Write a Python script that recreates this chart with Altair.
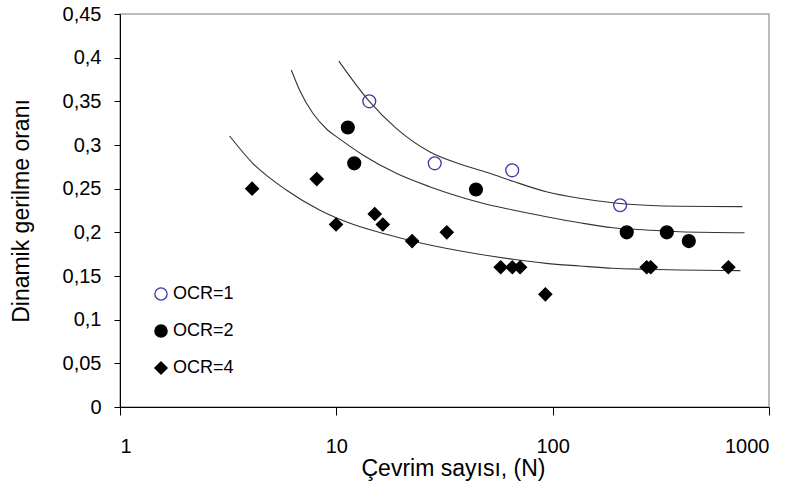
import altair as alt
import pandas as pd

# ---- measured points ----
ocr1_n = [14.2, 28.5, 65, 205]
ocr1_y = [0.35, 0.279, 0.271, 0.231]
ocr2_n = [11.3, 12.1, 44.2, 220, 337, 426]
ocr2_y = [0.32, 0.279, 0.249, 0.2, 0.2, 0.19]
ocr4_n = [4.08, 8.12, 9.97, 15.05, 16.4, 22.4, 32.4, 57.5, 65.1, 70.7, 92.5, 272, 284, 649]
ocr4_y = [0.25, 0.261, 0.209, 0.221, 0.209, 0.19, 0.2, 0.16, 0.16, 0.16, 0.129, 0.16, 0.16, 0.16]

# ---- trend curves ----
c1_n = [10.27, 14.24, 18.92, 26.97, 38.46, 51.1, 65.5, 93.4, 133.1, 189.8, 270.9, 386, 753]
c1_y = [0.396, 0.3496, 0.3191, 0.2923, 0.2771, 0.2676, 0.2585, 0.2465, 0.239, 0.2339, 0.231, 0.2298, 0.2294]
c2_n = [6.19, 6.76, 7.79, 9.11, 10.35, 13.26, 18.92, 26.97, 38.46, 51.1, 65.5, 93.4, 133.1, 189.8, 270.9, 386, 771]
c2_y = [0.3859, 0.363, 0.3363, 0.3172, 0.307, 0.2886, 0.2676, 0.2523, 0.2397, 0.2313, 0.2256, 0.2179, 0.211, 0.2053, 0.2027, 0.2007, 0.1996]
c3_n = [3.21, 4.11, 5.87, 8.36, 11.92, 17.01, 24.25, 45.9, 65.5, 93.4, 133.1, 189.8, 270.9, 386, 737]
c3_y = [0.3103, 0.279, 0.2485, 0.2256, 0.2092, 0.1978, 0.1881, 0.1749, 0.1691, 0.1645, 0.1615, 0.1588, 0.1577, 0.1569, 0.1561]

series = ["OCR=1", "OCR=2", "OCR=4"]
x_ticks = [1, 10, 100, 1000]
y_ticks = [0, 0.05, 0.1, 0.15, 0.2, 0.25, 0.3, 0.35, 0.4, 0.45]

pts = pd.concat([
    pd.DataFrame({"N": ocr1_n, "y": ocr1_y, "OCR": series[0]}),
    pd.DataFrame({"N": ocr2_n, "y": ocr2_y, "OCR": series[1]}),
    pd.DataFrame({"N": ocr4_n, "y": ocr4_y, "OCR": series[2]}),
], ignore_index=True)

curves = pd.concat([
    pd.DataFrame({"N": c1_n, "y": c1_y, "c": "c1", "o": range(len(c1_n))}),
    pd.DataFrame({"N": c2_n, "y": c2_y, "c": "c2", "o": range(len(c2_n))}),
    pd.DataFrame({"N": c3_n, "y": c3_y, "c": "c3", "o": range(len(c3_n))}),
], ignore_index=True)

FONT = "Liberation Sans"

x_enc = alt.X("N:Q", scale=alt.Scale(type="log", domain=[1, 1000], nice=False),
              axis=alt.Axis(values=x_ticks, format="d", title="Çevrim sayısı, (N)",
                            grid=False, tickSize=8, labelPadding=21, titlePadding=1,
                            titleX=333, labelFontSize=20, titleFontSize=23, labelColor="black",
                            titleColor="black", titleFontWeight="normal",
                            domainColor="black", tickColor="black", labelFont=FONT,
                            titleFont=FONT))
y_enc = alt.Y("y:Q", scale=alt.Scale(domain=[0, 0.45], nice=False),
              axis=alt.Axis(values=y_ticks,
                            labelExpr="replace(format(datum.value, '.2~f'), '.', ',')",
                            title="Dinamik gerilme oranı", grid=False, tickSize=6,
                            labelPadding=13, titlePadding=29, labelFontSize=20,
                            titleFontSize=23, labelColor="black", titleColor="black",
                            titleFontWeight="normal", domainColor="black",
                            tickColor="black", labelFont=FONT, titleFont=FONT))

lines = alt.Chart(curves).mark_line(color="#333333", strokeWidth=1.1, interpolate="monotone").encode(
    x=x_enc, y=y_enc, detail="c:N", order="o:Q")

leg = dict(title=None, orient="none", legendX=32, legendY=271)

points = alt.Chart(pts).mark_point(filled=True, size=165, strokeWidth=1.3, opacity=1).encode(
    x=x_enc, y=y_enc,
    shape=alt.Shape("OCR:N", scale=alt.Scale(domain=series, range=["circle", "circle", "diamond"]),
                    legend=alt.Legend(labelFontSize=18, labelFont=FONT, labelColor="black",
                                      symbolSize=150, labelOffset=3, rowPadding=19,
                                      symbolStrokeWidth=1.3, **leg)),
    fill=alt.Fill("OCR:N", scale=alt.Scale(domain=series, range=["transparent", "black", "black"]),
                  legend=alt.Legend(**leg)),
    stroke=alt.Stroke("OCR:N", scale=alt.Scale(domain=series, range=["#3b3ba6", "black", "black"]),
                      legend=alt.Legend(**leg)),
)

chart = alt.layer(lines, points).properties(
    width=649, height=393,
    autosize=alt.AutoSizeParams(type="none"),
    padding={"left": 120, "top": 14, "right": 30, "bottom": 82},
    background="white",
).configure_view(stroke="#a6a6a6", strokeWidth=1.5)

chart.save("out.html", embed_options={"renderer": "svg", "actions": False})
